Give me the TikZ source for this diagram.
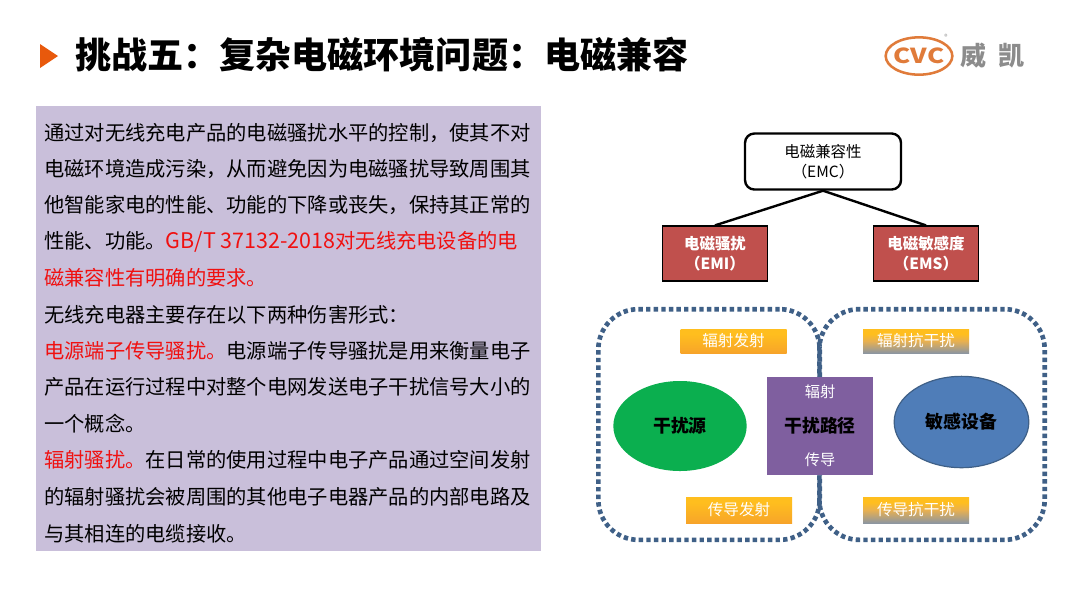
\documentclass[tikz,border=0pt]{standalone}
\usepackage{fontspec}
\usepackage{graphicx}
\setmainfont{Noto Sans CJK SC}
\usetikzlibrary{shapes.geometric}
\definecolor{panelc}{HTML}{C9BFDA}
\definecolor{titleorange}{HTML}{E8590C}
\definecolor{logoorange}{HTML}{E07B3A}
\definecolor{logogrey}{HTML}{8C8C8C}
\definecolor{redbox}{HTML}{C0504D}
\definecolor{dotc}{HTML}{3F6087}
\definecolor{purplec}{HTML}{7F5F9F}
\definecolor{greenc}{HTML}{0BAF4F}
\definecolor{bluec}{HTML}{4F7DB8}
\definecolor{bodyred}{HTML}{F01010}
\definecolor{fadeA}{HTML}{F08A2E}
\definecolor{fadeB}{HTML}{F8A828}
\definecolor{fadeC}{HTML}{FFBE1E}
\definecolor{fadeD}{HTML}{5F84BC}
\definecolor{fadeE}{HTML}{8D96A0}
\definecolor{fadeF}{HTML}{E8B050}
\pgfdeclareverticalshading{orangefade}{100bp}{color(0bp)=(fadeA);color(30bp)=(fadeB);color(65bp)=(fadeC);color(100bp)=(fadeC)}
\pgfdeclareverticalshading{bluefade}{100bp}{color(0bp)=(fadeD);color(25bp)=(fadeE);color(50bp)=(fadeF);color(65bp)=(fadeC);color(100bp)=(fadeC)}
\newcommand{\widelatin}[1]{{\fontsize{16.1pt}{18pt}\selectfont #1}}
\tikzset{
  x=0.75pt,y=-0.75pt,
  bodyline/.style={anchor=base west,inner sep=0pt,font=\fontsize{15.2pt}{18pt}\selectfont,text=black},
  dotbox/.style={draw=dotc,line width=3.5pt,dash pattern=on 3.3pt off 2.4pt,rounded corners=30pt,minimum width=166pt,minimum height=173pt,inner sep=0pt},
  tagbox/.style={minimum width=79.5pt,inner sep=0pt,text=white,font=\fontsize{11.7pt}{13pt}\selectfont},
  redchild/.style={draw=black,line width=1.2pt,fill=redbox,text=white,minimum width=79pt,minimum height=41pt,inner sep=0pt,align=center,font=\fontsize{11.6pt}{15pt}\selectfont\bfseries},
  conn/.style={draw=black,line width=1.8pt},
  pathlabel/.style={inner sep=0pt,font=\fontsize{11.4pt}{13pt}\selectfont},
  bigdark/.style={font=\fontsize{13.4pt}{15pt}\selectfont\bfseries},
}
\begin{document}
\begin{tikzpicture}
\useasboundingbox (0,0) rectangle (1080,608);
\fill[white] (0,0) rectangle (1080,608);
% title
\fill[titleorange] (40,44) -- (58,56) -- (40,68) -- cycle;
\node[anchor=base west,inner sep=0pt,font=\fontsize{27.05pt}{30pt}\selectfont\bfseries] (title) at (75,68) {挑战五：复杂电磁环境问题：电磁兼容};
% logo
\node[ellipse,draw=logoorange,line width=1.9pt,minimum width=50pt,minimum height=28pt,inner sep=0pt] (cvcring) at (919,56) {};
\node[inner sep=0pt,text=logoorange,font=\fontsize{15.5pt}{16pt}\selectfont\bfseries] (cvc) at (919,56) {\scalebox{1.25}[1]{CVC}};
\node[inner sep=0pt,text=logogrey,font=\fontsize{5pt}{6pt}\selectfont] (reg) at (946,37) {®};
\node[inner sep=0pt,text=logogrey,font=\fontsize{19.5pt}{21pt}\selectfont\bfseries] (wei) at (973,56) {威};
\node[inner sep=0pt,text=logogrey,font=\fontsize{19.5pt}{21pt}\selectfont\bfseries] (kai) at (1011,56) {凯};
% panel
\fill[panelc] (36,106) rectangle (541,551);
\node[bodyline] (l1) at (44,140) {通过对无线充电产品的电磁骚扰水平的控制，使其不对};
\node[bodyline] (l2) at (44,176) {电磁环境造成污染，从而避免因为电磁骚扰导致周围其};
\node[bodyline] (l3) at (44,212) {他智能家电的性能、功能的下降或丧失，保持其正常的};
\node[bodyline] (l4) at (44,248) {性能、功能。\textcolor{bodyred}{\widelatin{GB/T 37132-2018}对无线充电设备的电}};
\node[bodyline,text=bodyred] (l5) at (44,285) {磁兼容性有明确的要求。};
\node[bodyline] (l6) at (44,322) {无线充电器主要存在以下两种伤害形式：};
\node[bodyline] (l7) at (44,358) {\textcolor{bodyred}{电源端子传导骚扰。}电源端子传导骚扰是用来衡量电子};
\node[bodyline] (l8) at (44,394) {产品在运行过程中对整个电网发送电子干扰信号大小的};
\node[bodyline] (l9) at (44,431) {一个概念。};
\node[bodyline] (l10) at (44,467) {\textcolor{bodyred}{辐射骚扰。}在日常的使用过程中电子产品通过空间发射};
\node[bodyline] (l11) at (44,504) {的辐射骚扰会被周围的其他电子电器产品的内部电路及};
\node[bodyline] (l12) at (44,541) {与其相连的电缆接收。};
% tree
\node[draw=black,line width=1.8pt,rounded corners=7pt,fill=white,minimum width=117pt,minimum height=42pt,inner sep=0pt,align=center,font=\fontsize{11.6pt}{15pt}\selectfont] (emc) at (823,161.5) {电磁兼容性\\（EMC）};
\node[redchild] (emi) at (715,253.5) {电磁骚扰\\（EMI）};
\node[redchild] (ems) at (926,253.5) {电磁敏感度\\（EMS）};
\draw[conn] (emc.south) -- (emi.north);
\draw[conn] (emc.south) -- (ems.north);
% dotted regions
\node[dotbox] (left) at (709,424.5) {};
\node[dotbox,minimum width=169pt] (right) at (932,424.5) {};
% tags
\node[tagbox,minimum height=18pt,shade,shading=orangefade] (t1) at (733.5,341) {辐射发射};
\node[tagbox,minimum height=18pt,shade,shading=bluefade] (t2) at (916,341) {辐射抗干扰};
\node[tagbox,minimum height=19.5pt,shade,shading=orangefade] (t3) at (739,510) {传导发射};
\node[tagbox,minimum height=19.5pt,shade,shading=bluefade] (t4) at (916,510) {传导抗干扰};
% centre
\node[fill=purplec,minimum width=79.5pt,minimum height=73.5pt,inner sep=0pt] (route) at (820,426) {};
\node[pathlabel,text=white] (rad) at (820,392) {辐射};
\node[pathlabel,text=black,bigdark] (routelabel) at (820,426) {干扰路径};
\node[pathlabel,text=white] (cond) at (820,460) {传导};
% ellipses
\node[ellipse,fill=greenc,minimum width=100pt,minimum height=67.5pt,inner sep=0pt,bigdark] (src) at (680,426) {干扰源};
\node[ellipse,draw=dotc,line width=0.9pt,fill=bluec,minimum width=101pt,minimum height=68.5pt,inner sep=0pt,bigdark] (dev) at (961.5,422) {敏感设备};
\end{tikzpicture}
\end{document}
